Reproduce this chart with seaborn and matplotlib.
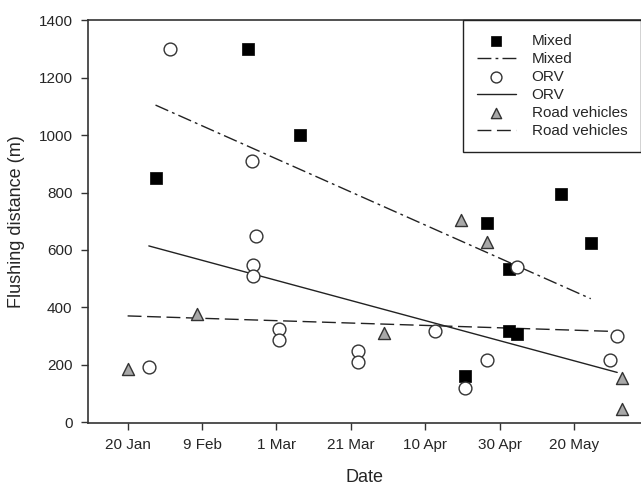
import matplotlib
matplotlib.use("Agg")
import matplotlib.pyplot as plt
import seaborn as sns
import numpy as np

# days counted from 20 Jan
tick_days = [0, 20, 40, 60, 80, 100, 120]
tick_labels = ["20 Jan", "9 Feb", "1 Mar", "21 Mar", "10 Apr", "30 Apr", "20 May"]

mixed_day = [7.5, 32.3, 46.4, 90.7, 96.6, 102.6, 102.6, 104.7, 116.4, 124.5]
mixed_dist = [850, 1300, 1000, 159, 694, 532, 317, 308, 794, 625]

orv_day = [5.8, 11.3, 33.4, 34.6, 33.7, 33.7, 40.8, 40.8, 61.8, 61.8,
           82.6, 90.7, 96.7, 104.7, 129.7, 131.6]
orv_dist = [193, 1301, 910, 650, 549, 510, 324, 285, 246, 208,
            316, 118, 218, 541, 218, 300]

road_day = [0, 18.6, 68.8, 89.6, 96.6, 132.8, 132.8]
road_dist = [184, 375, 309, 705, 628, 152, 47]

# fitted trend lines (end points)
mixed_fit_day = [7.5, 124.5]
mixed_fit = [1105, 430]
orv_fit_day = [5.7, 131.6]
orv_fit = [614, 173]
road_fit_day = [0, 132.8]
road_fit = [370, 315]

sns.set_style("white")
plt.rcParams["font.family"] = ["Liberation Sans", "DejaVu Sans"]

fig = plt.figure(figsize=(6.41, 4.87), dpi=100)
ax = fig.add_axes([0.137, 0.131, 0.863, 0.827])

sns.scatterplot(x=mixed_day, y=mixed_dist, ax=ax, marker="s", s=70,
                color="black", edgecolor="black", linewidth=0.5, label="Mixed", zorder=3)
sns.lineplot(x=mixed_fit_day, y=mixed_fit, ax=ax, color="#222222", linewidth=1.0,
             linestyle=(0, (10, 3, 2, 3)), label="Mixed")
sns.scatterplot(x=orv_day, y=orv_dist, ax=ax, marker="o", s=85,
                facecolor="white", edgecolor="#333333", linewidth=1.0, label="ORV", zorder=3)
sns.lineplot(x=orv_fit_day, y=orv_fit, ax=ax, color="#222222", linewidth=1.0,
             linestyle="-", label="ORV")
sns.scatterplot(x=road_day, y=road_dist, ax=ax, marker="^", s=75,
                color="#a8a8a8", edgecolor="#333333", linewidth=1.0, label="Road vehicles", zorder=3)
sns.lineplot(x=road_fit_day, y=road_fit, ax=ax, color="#222222", linewidth=1.0,
             linestyle=(0, (10, 4)), label="Road vehicles")

ax.set_xlim(-10.7, 138)
ax.set_ylim(-4, 1400)
ax.set_xticks(tick_days)
ax.set_xticklabels(tick_labels)
ax.set_yticks(np.arange(0, 1401, 200))
ax.tick_params(axis="both", direction="out", length=5, width=1, color="#333333",
               labelsize=11, pad=6, bottom=True, left=True)
ax.set_xlabel("Date", fontsize=13, labelpad=12)
ax.set_ylabel("Flushing distance (m)", fontsize=13, labelpad=10)

for side in ["left", "bottom", "top"]:
    ax.spines[side].set_color("#333333")
    ax.spines[side].set_linewidth(1.2)
ax.spines["right"].set_visible(False)

handles, labels = ax.get_legend_handles_labels()
leg = ax.legend(handles, labels, loc="upper right", bbox_to_anchor=(1.0, 1.0),
                borderaxespad=0, fancybox=False, framealpha=1, edgecolor="#222222",
                fontsize=11, labelspacing=0.26, borderpad=0.9, handlelength=2.6,
                handletextpad=1.0, markerscale=0.85)
leg.get_frame().set_linewidth(1.0)

fig.savefig("out.png", dpi=100)
